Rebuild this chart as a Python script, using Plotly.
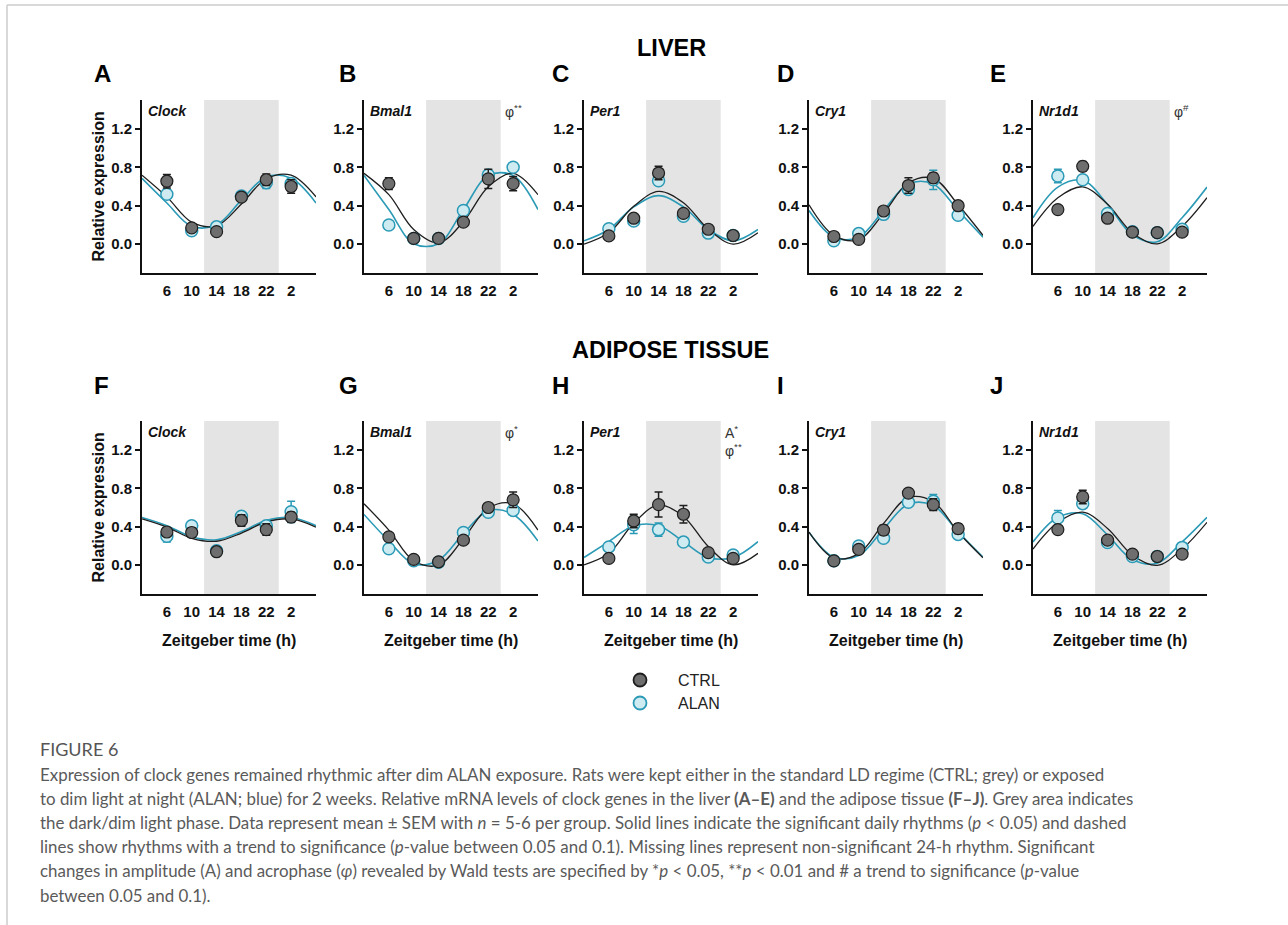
import plotly.graph_objects as go

# ---------------- data ----------------
ZT = [6, 10, 14, 18, 22, 26]
TICK_LABELS = ["6", "10", "14", "18", "22", "2"]
Y_TICKS = [0.0, 0.4, 0.8, 1.2]
Y_TICK_LABELS = ["0.0", "0.4", "0.8", "1.2"]
CURVE_X = [2, 6, 10, 14, 18, 22, 26, 30]
DARK_PHASE = [12, 24]

GENES = ["Clock", "Bmal1", "Per1", "Cry1", "Nr1d1"]
PANEL_LETTERS = ["A", "B", "C", "D", "E", "F", "G", "H", "I", "J"]

# Liver: means and SEM
liver_ctrl_mean = [
    [0.655, 0.17, 0.13, 0.49, 0.67, 0.60],
    [0.63, 0.06, 0.06, 0.23, 0.68, 0.63],
    [0.086, 0.27, 0.74, 0.32, 0.155, 0.09],
    [0.08, 0.05, 0.345, 0.61, 0.69, 0.40],
    [0.36, 0.81, 0.27, 0.125, 0.12, 0.125],
]
liver_ctrl_sem = [
    [0.07, 0.04, 0.02, 0.04, 0.06, 0.07],
    [0.06, 0.02, 0.02, 0.03, 0.10, 0.075],
    [0.02, 0.03, 0.07, 0.03, 0.02, 0.02],
    [0.02, 0.02, 0.04, 0.08, 0.05, 0.04],
    [0.02, 0.05, 0.02, 0.02, 0.02, 0.02],
]
liver_alan_mean = [
    [0.52, 0.14, 0.18, 0.50, 0.64, 0.63],
    [0.20, 0.06, 0.06, 0.35, 0.72, 0.80],
    [0.16, 0.24, 0.66, 0.29, 0.115, 0.09],
    [0.035, 0.11, 0.31, 0.57, 0.67, 0.30],
    [0.71, 0.67, 0.32, 0.13, 0.12, 0.155],
]
liver_alan_sem = [
    [0.02, 0.04, 0.02, 0.04, 0.06, 0.03],
    [0.03, 0.02, 0.02, 0.05, 0.05, 0.02],
    [0.02, 0.02, 0.02, 0.02, 0.02, 0.02],
    [0.02, 0.02, 0.03, 0.05, 0.10, 0.02],
    [0.07, 0.02, 0.03, 0.02, 0.02, 0.02],
]

# Adipose tissue: means and SEM
adipose_ctrl_mean = [
    [0.345, 0.34, 0.14, 0.465, 0.37, 0.50],
    [0.295, 0.06, 0.035, 0.26, 0.60, 0.68],
    [0.07, 0.46, 0.63, 0.53, 0.13, 0.07],
    [0.045, 0.165, 0.365, 0.75, 0.63, 0.38],
    [0.37, 0.71, 0.26, 0.115, 0.09, 0.115],
]
adipose_ctrl_sem = [
    [0.04, 0.05, 0.02, 0.06, 0.06, 0.05],
    [0.04, 0.02, 0.02, 0.02, 0.04, 0.08],
    [0.02, 0.07, 0.13, 0.09, 0.04, 0.02],
    [0.02, 0.03, 0.05, 0.04, 0.06, 0.05],
    [0.03, 0.07, 0.02, 0.02, 0.02, 0.02],
]
adipose_alan_mean = [
    [0.30, 0.41, 0.15, 0.51, 0.41, 0.555],
    [0.17, 0.045, 0.03, 0.34, 0.55, 0.57],
    [0.19, 0.42, 0.37, 0.24, 0.085, 0.105],
    [0.045, 0.20, 0.28, 0.655, 0.665, 0.32],
    [0.49, 0.64, 0.235, 0.09, 0.09, 0.185],
]
adipose_alan_sem = [
    [0.06, 0.02, 0.02, 0.03, 0.02, 0.11],
    [0.02, 0.02, 0.02, 0.04, 0.02, 0.04],
    [0.02, 0.09, 0.07, 0.02, 0.02, 0.02],
    [0.02, 0.02, 0.04, 0.03, 0.07, 0.03],
    [0.08, 0.03, 0.02, 0.02, 0.02, 0.02],
]

# Fitted rhythm curves read at CURVE_X
liver_ctrl_fit = [
    [0.718, 0.492, 0.229, 0.192, 0.418, 0.681, 0.718, 0.492],
    [0.737, 0.515, 0.153, 0.013, 0.235, 0.597, 0.737, 0.515],
    [0.001, 0.119, 0.394, 0.549, 0.431, 0.156, 0.001, 0.119],
    [0.410, 0.091, 0.046, 0.320, 0.639, 0.684, 0.410, 0.091],
    [0.185, 0.483, 0.597, 0.415, 0.117, 0.003, 0.185, 0.483],
]
liver_alan_fit = [
    [0.684, 0.428, 0.186, 0.201, 0.458, 0.700, 0.685, 0.428],
    [0.715, 0.360, 0.005, 0.005, 0.360, 0.715, 0.715, 0.360],
    [0.035, 0.153, 0.388, 0.505, 0.388, 0.153, 0.035, 0.153],
    [0.350, 0.073, 0.073, 0.350, 0.627, 0.627, 0.350, 0.073],
    [0.275, 0.594, 0.664, 0.415, 0.096, 0.026, 0.275, 0.594],
]
adipose_ctrl_fit = [
    [0.481, 0.396, 0.280, 0.249, 0.334, 0.450, 0.481, 0.396],
    [0.639, 0.365, 0.046, 0.001, 0.275, 0.594, 0.639, 0.365],
    [0.003, 0.123, 0.436, 0.627, 0.507, 0.194, 0.003, 0.123],
    [0.345, 0.076, 0.120, 0.435, 0.704, 0.660, 0.345, 0.076],
    [0.168, 0.446, 0.552, 0.382, 0.104, -0.002, 0.168, 0.446],
]
adipose_alan_fit = [
    [0.496, 0.411, 0.295, 0.264, 0.349, 0.465, 0.496, 0.411],
    [0.528, 0.251, 0.013, 0.052, 0.329, 0.567, 0.528, 0.251],
    [0.080, 0.245, 0.410, 0.410, 0.245, 0.080, 0.080, 0.245],
    [0.344, 0.084, 0.100, 0.376, 0.636, 0.620, 0.344, 0.084],
    [0.242, 0.498, 0.535, 0.314, 0.058, 0.021, 0.242, 0.498],
]

# Wald-test annotations (panel index -> text)
SIG_LABELS = {1: "φ<sup>**</sup>", 4: "φ<sup>#</sup>",
              6: "φ<sup>*</sup>", 7: "A<sup>*</sup><br>φ<sup>**</sup>"}

CAPTION_TITLE = "FIGURE 6"
CAPTION_LINES = [
    "Expression of clock genes remained rhythmic after dim ALAN exposure. Rats were kept either in the standard LD regime (CTRL; grey) or exposed",
    "to dim light at night (ALAN; blue) for 2 weeks. Relative mRNA levels of clock genes in the liver <b>(A–E)</b> and the adipose tissue <b>(F–J)</b>. Grey area indicates",
    "the dark/dim light phase. Data represent mean ± SEM with <i>n</i> = 5-6 per group. Solid lines indicate the significant daily rhythms (<i>p</i> &lt; 0.05) and dashed",
    "lines show rhythms with a trend to significance (<i>p</i>-value between 0.05 and 0.1). Missing lines represent non-significant 24-h rhythm. Significant",
    "changes in amplitude (A) and acrophase (<i>φ</i>) revealed by Wald tests are specified by *<i>p</i> &lt; 0.05, **<i>p</i> &lt; 0.01 and # a trend to significance (<i>p</i>-value",
    "between 0.05 and 0.1).",
]

# ---------------- styling / layout ----------------
W, H = 1288, 925
FONT = "Liberation Sans, Arial, sans-serif"
CAP_FONT = "Lato, Open Sans, sans-serif"
CTRL_LINE = "#1e1e1e"
CTRL_FILL = "#6e6e6e"
ALAN_LINE = "#2b9ab6"
ALAN_FILL = "#cdebf0"
SHADE = "#e4e4e4"

COL_LEFT = [142, 364, 584, 809, 1033]
COL_W = 174
ROW_TOP = [100, 421]
ROW_H = 173
LETTER_X = [92, 337, 550, 775, 988]
LETTER_Y = [74, 386]
YR = [-0.3, 1.5]
XR = [2, 30]


def px(x):
    return x / W


def py(y):
    return 1 - y / H


fig = go.Figure()
layout = dict(
    width=W, height=H, margin=dict(l=0, r=0, t=0, b=0),
    paper_bgcolor="white", plot_bgcolor="white", showlegend=False,
    font=dict(family=FONT, color="#111"),
)
shapes = []
annotations = []

datasets = [
    (liver_ctrl_mean, liver_ctrl_sem, liver_alan_mean, liver_alan_sem, liver_ctrl_fit, liver_alan_fit),
    (adipose_ctrl_mean, adipose_ctrl_sem, adipose_alan_mean, adipose_alan_sem, adipose_ctrl_fit, adipose_alan_fit),
]

for i in range(10):
    row, col = divmod(i, 5)
    n = i + 1
    xa = "x" if n == 1 else f"x{n}"
    ya = "y" if n == 1 else f"y{n}"
    xkey = "xaxis" if n == 1 else f"xaxis{n}"
    ykey = "yaxis" if n == 1 else f"yaxis{n}"
    cm, cs, am, asem, cfit, afit = datasets[row]
    g = col

    x0, x1 = COL_LEFT[col], COL_LEFT[col] + COL_W
    y0, y1 = ROW_TOP[row], ROW_TOP[row] + ROW_H
    layout[xkey] = dict(
        domain=[px(x0), px(x1)], anchor=ya, range=XR,
        tickvals=ZT, ticktext=TICK_LABELS, ticks="outside", ticklen=3,
        tickcolor="rgba(0,0,0,0)", showgrid=False, zeroline=False,
        showline=True, linecolor="#111", linewidth=2,
        tickfont=dict(family=FONT, size=15, color="#111", weight="bold"),
    )
    layout[ykey] = dict(
        domain=[py(y1), py(y0)], anchor=xa, range=YR,
        tickvals=Y_TICKS, ticktext=Y_TICK_LABELS, ticks="outside", ticklen=5,
        tickwidth=1.5, tickcolor="#111", showgrid=False, zeroline=False,
        showline=True, linecolor="#111", linewidth=2,
        tickfont=dict(family=FONT, size=15, color="#111", weight="bold"),
    )

    shapes.append(dict(type="rect", xref=xa, yref=ya, x0=DARK_PHASE[0], x1=DARK_PHASE[1],
                       y0=YR[0], y1=YR[1], fillcolor=SHADE, line=dict(width=0), layer="below"))

    fig.add_trace(go.Scatter(x=CURVE_X, y=afit[g], mode="lines", xaxis=xa, yaxis=ya,
                             line=dict(color=ALAN_LINE, width=1.6, shape="spline", smoothing=1),
                             hoverinfo="skip", name="ALAN fit"))
    fig.add_trace(go.Scatter(x=CURVE_X, y=cfit[g], mode="lines", xaxis=xa, yaxis=ya,
                             line=dict(color=CTRL_LINE, width=1.3, shape="spline", smoothing=1),
                             hoverinfo="skip", name="CTRL fit"))
    fig.add_trace(go.Scatter(x=ZT, y=am[g], mode="markers", xaxis=xa, yaxis=ya, name="ALAN",
                             error_y=dict(type="data", array=asem[g], color=ALAN_LINE, thickness=1.5, width=4),
                             marker=dict(size=12, color=ALAN_FILL, line=dict(color=ALAN_LINE, width=1.5))))
    fig.add_trace(go.Scatter(x=ZT, y=cm[g], mode="markers", xaxis=xa, yaxis=ya, name="CTRL",
                             error_y=dict(type="data", array=cs[g], color=CTRL_LINE, thickness=1.5, width=4),
                             marker=dict(size=12, color=CTRL_FILL, line=dict(color=CTRL_LINE, width=1.2))))

    # gene name
    annotations.append(dict(text=GENES[g], xref=f"{xa} domain", yref=f"{ya} domain",
                            x=0.025, y=0.936, xanchor="left", yanchor="middle", showarrow=False,
                            font=dict(family=FONT, size=14, color="#111", weight="bold", style="italic")))
    # panel letter
    annotations.append(dict(text=PANEL_LETTERS[i], xref="paper", yref="paper",
                            x=px(LETTER_X[col]), y=py(LETTER_Y[row]), xanchor="left", yanchor="middle",
                            showarrow=False, font=dict(family=FONT, size=24, color="#000", weight="bold")))
    # significance labels
    if i in SIG_LABELS:
        annotations.append(dict(text=SIG_LABELS[i], xref=f"{xa} domain", yref=f"{ya} domain",
                                x=0.80, y=1.0, xanchor="left", yanchor="top", align="left",
                                showarrow=False, font=dict(family=FONT, size=14, color="#333")))
    # x title (bottom row)
    if row == 1:
        annotations.append(dict(text="Zeitgeber time (h)", xref=f"{xa} domain", yref="paper",
                                x=0.5, y=py(640), xanchor="center", yanchor="middle", showarrow=False,
                                font=dict(family=FONT, size=16, color="#111", weight="bold")))

# y titles
for row in range(2):
    annotations.append(dict(text="Relative expression", xref="paper", yref="paper",
                            x=px(98), y=py(ROW_TOP[row] + ROW_H / 2), textangle=-90,
                            xanchor="center", yanchor="middle", showarrow=False,
                            font=dict(family=FONT, size=16, color="#111", weight="bold")))

# section titles
annotations.append(dict(text="LIVER", xref="paper", yref="paper", x=px(671), y=py(48),
                        xanchor="center", yanchor="middle", showarrow=False,
                        font=dict(family=FONT, size=23.5, color="#000", weight="bold")))
annotations.append(dict(text="ADIPOSE TISSUE", xref="paper", yref="paper", x=px(670), y=py(350),
                        xanchor="center", yanchor="middle", showarrow=False,
                        font=dict(family=FONT, size=23.5, color="#000", weight="bold")))

# legend (drawn)
for label, fill, edge, yy in [("CTRL", CTRL_FILL, CTRL_LINE, 680), ("ALAN", ALAN_FILL, ALAN_LINE, 703)]:
    shapes.append(dict(type="circle", xref="paper", yref="paper", xsizemode="pixel", ysizemode="pixel",
                       xanchor=px(640), yanchor=py(yy), x0=-6.5, x1=6.5, y0=-6.5, y1=6.5,
                       fillcolor=fill, line=dict(color=edge, width=1.8)))
    annotations.append(dict(text=label, xref="paper", yref="paper", x=px(676), y=py(yy),
                            xanchor="left", yanchor="middle", showarrow=False,
                            font=dict(family=FONT, size=16, color="#222")))

# frame lines
shapes.append(dict(type="line", xref="paper", yref="paper", x0=px(7), x1=1, y0=py(5), y1=py(5),
                   line=dict(color="#cccccc", width=1.5)))
shapes.append(dict(type="line", xref="paper", yref="paper", x0=px(7), x1=px(7), y0=py(5), y1=0,
                   line=dict(color="#cccccc", width=1.5)))

# caption
annotations.append(dict(text=CAPTION_TITLE, xref="paper", yref="paper", x=px(38), y=py(749),
                        xanchor="left", yanchor="middle", showarrow=False,
                        font=dict(family=CAP_FONT, size=18, color="#555")))
for k, line in enumerate(CAPTION_LINES):
    annotations.append(dict(text=line, xref="paper", yref="paper", x=px(38), y=py(774 + 24.2 * k),
                            xanchor="left", yanchor="middle", showarrow=False,
                            font=dict(family=CAP_FONT, size=16.9, color="#5a5a5a")))

layout["shapes"] = shapes
layout["annotations"] = annotations
fig.update_layout(**layout)
fig.write_html("out.html", config={"displayModeBar": False},
               post_script="document.body.style.margin='0';")
